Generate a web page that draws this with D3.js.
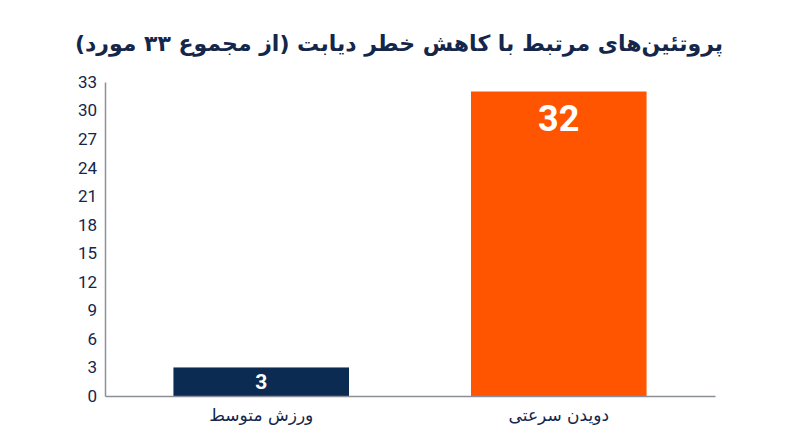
<!DOCTYPE html>
<html><head><meta charset="utf-8">
<script src="https://cdn.jsdelivr.net/npm/d3@7/dist/d3.min.js"></script>
<style>body{margin:0;background:#fff}svg{display:block}</style>
</head><body>
<svg id="c" width="800" height="447"></svg>
<script>
const title = "پروتئین‌های مرتبط با کاهش خطر دیابت (از مجموع ۳۳ مورد)";
const categories = ["ورزش متوسط", "دویدن سرعتی"];
const values = [3, 32];
const barColors = ["#0c2b52", "#ff5500"];
const tickValues = [0, 3, 6, 9, 12, 15, 18, 21, 24, 27, 30, 33];

const svg = d3.select("#c");
const ink = "#14264a";
const x = d3.scaleBand().domain(categories).range([105, 715]).paddingInner(0.41).paddingOuter(0.23);
const y = d3.scaleLinear().domain([0, 33]).range([396, 82]);

svg.append("text").attr("x", 399).attr("y", 51).attr("text-anchor", "middle")
  .attr("direction", "rtl").attr("font-family", "DejaVu Sans, sans-serif").attr("font-weight", "bold")
  .attr("font-size", 22).attr("fill", ink).text(title);

svg.selectAll("rect.bar").data(values).join("rect").attr("class", "bar")
  .attr("x", (d, i) => x(categories[i])).attr("width", x.bandwidth())
  .attr("y", d => y(d)).attr("height", d => y(0) - y(d))
  .attr("fill", (d, i) => barColors[i]);

const yAxis = svg.append("g").attr("transform", "translate(105,0)")
  .call(d3.axisLeft(y).tickValues(tickValues).tickSize(0).tickPadding(8));
yAxis.attr("font-size", null).attr("font-family", null);
yAxis.select(".domain").attr("stroke", "#8a8f99").attr("stroke-width", 1.5);
yAxis.selectAll("text").style("font-family", "Roboto, sans-serif").style("font-size", "17px").attr("fill", ink);

const xAxis = svg.append("g").attr("transform", "translate(0,396)")
  .call(d3.axisBottom(x).tickSize(0).tickPadding(12));
xAxis.attr("font-size", null).attr("font-family", null);
xAxis.select(".domain").attr("stroke", "#8a8f99").attr("stroke-width", 1.5);
xAxis.selectAll("text").style("font-family", "DejaVu Sans, sans-serif").style("font-size", "17px")
  .attr("fill", ink).attr("direction", "rtl").attr("dy", "0.75em");

// value labels
svg.selectAll("text.val").data(values).join("text").attr("class", "val")
  .attr("x", (d, i) => x(categories[i]) + x.bandwidth() / 2)
  .attr("y", d => d > 10 ? y(d) + 39 : y(d) + 22)
  .attr("text-anchor", "middle").attr("font-family", "Roboto, sans-serif").attr("font-weight", "bold")
  .attr("font-size", d => d > 10 ? 36 : 21).attr("fill", "#fff").text(d => d);
</script>
</body></html>
